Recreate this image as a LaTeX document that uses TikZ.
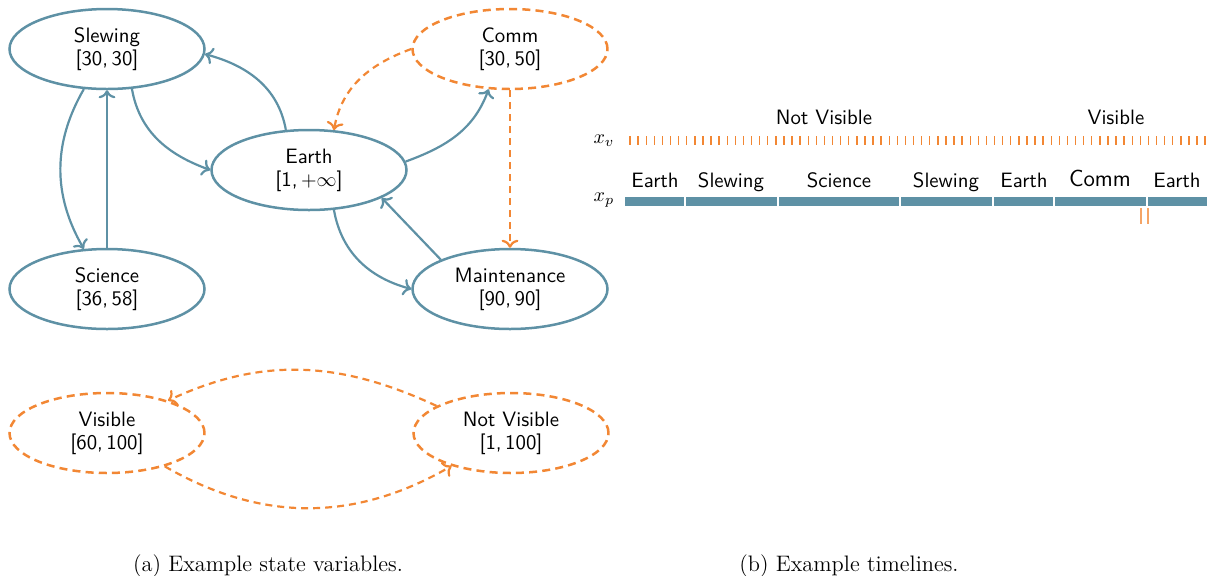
\documentclass[tikz,border=0pt]{standalone}
\usetikzlibrary{shapes.geometric,arrows.meta}
\definecolor{tealb}{RGB}{94,145,165}
\definecolor{orng}{RGB}{242,135,52}
\begin{document}
\begin{tikzpicture}[x=0.5pt,y=-0.5pt,
  stnode/.style={ellipse,draw=tealb,line width=1.25pt,minimum width=97.5pt,minimum height=40pt,inner sep=0pt,align=center,font=\sffamily\fontsize{10.4}{11.5}\selectfont},
  dstnode/.style={stnode,draw=orng,dash pattern=on 4pt off 2.6pt},
  conn/.style={draw=tealb,line width=1.1pt,->},
  dconn/.style={draw=orng,line width=1.1pt,->,dash pattern=on 3.5pt off 2.5pt},
  tltext/.style={font=\sffamily\fontsize{10.4}{12}\selectfont,inner sep=0pt,anchor=base},
  captext/.style={font=\fontsize{11.2}{13}\selectfont,inner sep=0pt},
  segfill/.style={fill=tealb},
  tickmark/.style={fill=orng}]
\useasboundingbox (0,0) rectangle (1207,575);

% state variable graph
\node[stnode] (slew) at (107,49) {Slewing\\{[}30,\,30{]}};
\node[stnode] (sci) at (107,289) {Science\\{[}36,\,58{]}};
\node[stnode] (earth) at (309,170) {Earth\\{[}1,\,$+\infty${]}};
\node[dstnode] (comm) at (510,49) {Comm\\{[}30,\,50{]}};
\node[stnode] (maint) at (510,289) {Maintenance\\{[}90,\,90{]}};
\node[dstnode] (vis) at (107,433) {Visible\\{[}60,\,100{]}};
\node[dstnode] (nvis) at (511,433) {Not Visible\\{[}1,\,100{]}};

\draw[conn] (slew.240) to[out=240,in=120] (sci.120);
\draw[conn] (sci.north) -- (slew.south);
\draw[conn] (slew.302) to[out=280,in=160] (earth.180);
\draw[conn] (earth.120) to[out=100,in=-15] (slew.-3);
\draw[conn] (earth.5) to[out=20,in=250] (comm.242);
\draw[conn] (earth.302) to[out=280,in=165] (maint.180);
\draw[conn] (maint.157) -- (earth.339);
\draw[dconn] (comm.180) to[out=200,in=80] (earth.58);
\draw[dconn] (comm.south) -- (maint.north);
\draw[dconn] (nvis.160) to[out=155,in=25] (vis.28);
\draw[dconn] (vis.330) to[out=-30,in=210] (nvis.209);

% timelines
\node[inner sep=0pt] (xv) at (604,141) {$x_v$};
\node[inner sep=0pt] (xp) at (604,200) {$x_p$};
\foreach \i in {0,...,71}
  \fill[tickmark] ({629.3+\i*8.1},136) rectangle ({630.7+\i*8.1},145);
\node[tltext] (lnv) at (824,124) {Not Visible};
\node[tltext] (lv) at (1116,124) {Visible};

\fill[segfill] (625,197) rectangle (684,206);
\fill[segfill] (686,197) rectangle (777,206);
\fill[segfill] (779,197) rectangle (899,206);
\fill[segfill] (901,197) rectangle (992,206);
\fill[segfill] (994,197) rectangle (1053,206);
\fill[segfill] (1055,197) rectangle (1146,206);
\fill[segfill] (1148,197) rectangle (1207,206);

\node[tltext] (t1) at (655,187) {Earth};
\node[tltext] (t2) at (731,187) {Slewing};
\node[tltext] (t3) at (839,187) {Science};
\node[tltext] (t4) at (946,187) {Slewing};
\node[tltext] (t5) at (1024,187) {Earth};
\node[tltext,font=\sffamily\fontsize{11.6}{13}\selectfont] (t6) at (1100,186) {Comm};
\node[tltext] (t7) at (1177,187) {Earth};

\draw[orng!75,line width=1pt] (1141,208) -- (1141,224);
\draw[orng!75,line width=1pt] (1148,208) -- (1148,224);

% captions
\node[captext] (capa) at (268,566) {(a) Example state variables.};
\node[captext] (capb) at (849,566) {(b) Example timelines.};
\end{tikzpicture}
\end{document}
